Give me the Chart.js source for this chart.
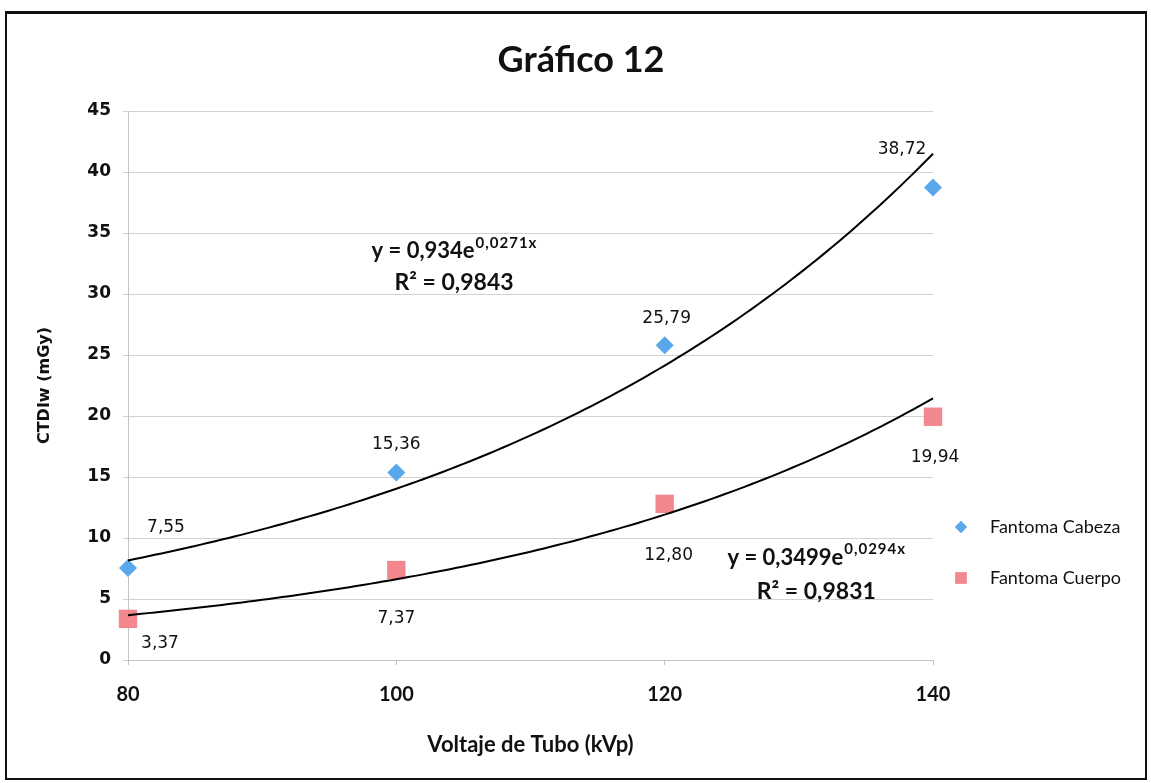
<!DOCTYPE html>
<html>
<head>
<meta charset="utf-8">
<title>Gráfico 12</title>
<script src="https://cdn.jsdelivr.net/npm/chart.js@4.4.1/dist/chart.umd.min.js"></script>
<style>
  html, body { margin: 0; padding: 0; background: #fff; }
  #wrap { position: relative; width: 1151px; height: 783px; }
  #frame {
    position: absolute; left: 5px; top: 11px; width: 1138px; height: 764px;
    border: 2px solid #111; border-top-width: 3px; pointer-events: none;
  }
</style>
</head>
<body>
<div id="wrap">
  <canvas id="chart" width="1151" height="783"></canvas>
  <div id="frame"></div>
</div>
<script>
// datos
const voltaje = [80, 100, 120, 140];
const cabeza = [7.55, 15.36, 25.79, 38.72];
const cuerpo = [3.37, 7.37, 12.80, 19.94];
const xTicks = [80, 100, 120, 140];
const yTicks = [0, 5, 10, 15, 20, 25, 30, 35, 40, 45];

// línea de tendencia exponencial y = a * e^(b x)
const trendA = [0.934, 0.3499];
const trendB = [0.0271, 0.0294];
const trendR2 = [0.9843, 0.9831];
const trendAText = ["0,934", "0,3499"];
const trendBText = ["0,0271", "0,0294"];
const r2Text = ["0,9843", "0,9831"];

const coma = v => v.toFixed(2).replace(".", ",");

// desplazamiento de las etiquetas de datos (px)
const labelOffsets = [
  [[38, -40], [0, -28], [2, -27], [-31, -38]],
  [[32, 25], [0, 48], [4, 52], [2, 41]]
];
// ubicación de las ecuaciones (en valores de los ejes)
const eqPos = [[104.3, 33.5, 30.9], [131.3, 8.4, 5.6]];

const azul = "#5aa8ec";
const rosa = "#f2878d";

const toPoints = ys => ys.map((y, i) => ({ x: voltaje[i], y: y }));

// etiquetas, tendencias, título y leyenda
const extras = {
  id: "extras",
  afterDatasetsDraw(chart) {
    const { ctx } = chart;
    const xs = chart.scales.x, ys = chart.scales.y;

    // tendencias
    ctx.save();
    ctx.strokeStyle = "#000";
    ctx.lineWidth = 2;
    for (let s = 0; s < trendA.length; s++) {
      ctx.beginPath();
      for (let v = voltaje[0]; v <= voltaje[voltaje.length - 1] + 0.001; v += 0.5) {
        const px = xs.getPixelForValue(v);
        const py = ys.getPixelForValue(trendA[s] * Math.exp(trendB[s] * v));
        if (v === voltaje[0]) ctx.moveTo(px, py); else ctx.lineTo(px, py);
      }
      ctx.stroke();
    }
    ctx.restore();

    // etiquetas de datos
    ctx.save();
    ctx.fillStyle = "#111";
    ctx.font = "17px 'DejaVu Sans'";
    ctx.textAlign = "center";
    ctx.textBaseline = "middle";
    chart.data.datasets.forEach((ds, di) => {
      chart.getDatasetMeta(di).data.forEach((pt, i) => {
        const off = labelOffsets[di][i];
        ctx.fillText(coma(ds.data[i].y), pt.x + off[0], pt.y + off[1]);
      });
    });
    ctx.restore();

    // ecuaciones
    ctx.save();
    ctx.fillStyle = "#111";
    ctx.textBaseline = "middle";
    for (let s = 0; s < trendA.length; s++) {
      const cx = xs.getPixelForValue(eqPos[s][0]);
      const y1 = ys.getPixelForValue(eqPos[s][1]);
      const y2 = ys.getPixelForValue(eqPos[s][2]);
      const main = "y = " + trendAText[s] + "e";
      const sup = trendBText[s] + "x";
      ctx.font = "bold 22px Lato";
      const w1 = ctx.measureText(main).width;
      ctx.font = "bold 15px Lato";
      ctx.letterSpacing = "1px";
      const w2 = ctx.measureText(sup).width;
      const left = cx - (w1 + w2) / 2;
      ctx.textAlign = "left";
      ctx.fillText(sup, left + w1 + 1, y1 - 8);
      ctx.letterSpacing = "0px";
      ctx.font = "bold 22px Lato";
      ctx.fillText(main, left, y1);
      ctx.font = "bold 23px Lato";
      ctx.textAlign = "center";
      ctx.fillText("R² = " + r2Text[s], cx, y2);
    }
    ctx.restore();
  },
  afterDraw(chart) {
    const { ctx } = chart;
    ctx.save();
    // título
    ctx.fillStyle = "#111";
    ctx.font = "bold 36px Lato";
    ctx.textAlign = "center";
    ctx.textBaseline = "middle";
    ctx.fillText("Gráfico 12", 581, 60);
    // leyenda
    ctx.font = "18px Lato";
    ctx.textAlign = "left";
    chart.data.datasets.forEach((ds, i) => {
      const y = 527 + i * 51;
      ctx.fillStyle = ds.backgroundColor;
      Chart.helpers.drawPoint(ctx, { pointStyle: ds.pointStyle, radius: i === 0 ? 6 : 8, borderWidth: 0 }, 961, y);
      ctx.fill();
      ctx.fillStyle = "#111";
      ctx.fillText(ds.label, 990, y);
    });
    ctx.restore();
  }
};

new Chart(document.getElementById("chart").getContext("2d"), {
  type: "scatter",
  data: {
    datasets: [
      {
        label: "Fantoma Cabeza",
        data: toPoints(cabeza),
        pointStyle: "rectRot",
        pointRadius: 9,
        pointHoverRadius: 9,
        backgroundColor: azul,
        borderColor: azul,
        borderWidth: 0,
        clip: false
      },
      {
        label: "Fantoma Cuerpo",
        data: toPoints(cuerpo),
        pointStyle: "rect",
        pointRadius: 13,
        pointHoverRadius: 13,
        backgroundColor: rosa,
        borderColor: rosa,
        borderWidth: 0,
        clip: false
      }
    ]
  },
  options: {
    responsive: false,
    animation: false,
    layout: { padding: { top: 111, right: 218, bottom: 20, left: 5 } },
    plugins: {
      legend: { display: false },
      tooltip: { enabled: false }
    },
    scales: {
      x: {
        type: "linear",
        min: 80,
        max: 140,
        afterFit: s => { s.height = 103; },
        afterBuildTicks: s => { s.ticks = xTicks.map(v => ({ value: v })); },
        grid: { drawOnChartArea: false, drawTicks: true, tickLength: 5, color: "#c4c4c4" },
        border: { color: "#c4c4c4" },
        ticks: { color: "#111", font: { family: "Lato", weight: "bold", size: 20 }, padding: 18 },
        title: {
          display: true,
          text: "Voltaje de Tubo (kVp)",
          color: "#111",
          font: { family: "Lato", weight: "bold", size: 22 },
          padding: { top: 0, bottom: 5 }
        }
      },
      y: {
        min: 0,
        max: 45,
        afterFit: s => { s.width = 123; },
        afterBuildTicks: s => { s.ticks = yTicks.map(v => ({ value: v })); },
        grid: { color: "#d2d2d2", tickLength: 5 },
        border: { color: "#c4c4c4" },
        ticks: { color: "#111", font: { family: "DejaVu Sans", weight: "bold", size: 17 }, padding: 12 },
        title: {
          display: true,
          text: "CTDIw (mGy)",
          color: "#111",
          font: { family: "DejaVu Sans", weight: "bold", size: 16 },
          padding: { top: 30, bottom: 0 }
        }
      }
    }
  },
  plugins: [extras]
});
</script>
</body>
</html>
